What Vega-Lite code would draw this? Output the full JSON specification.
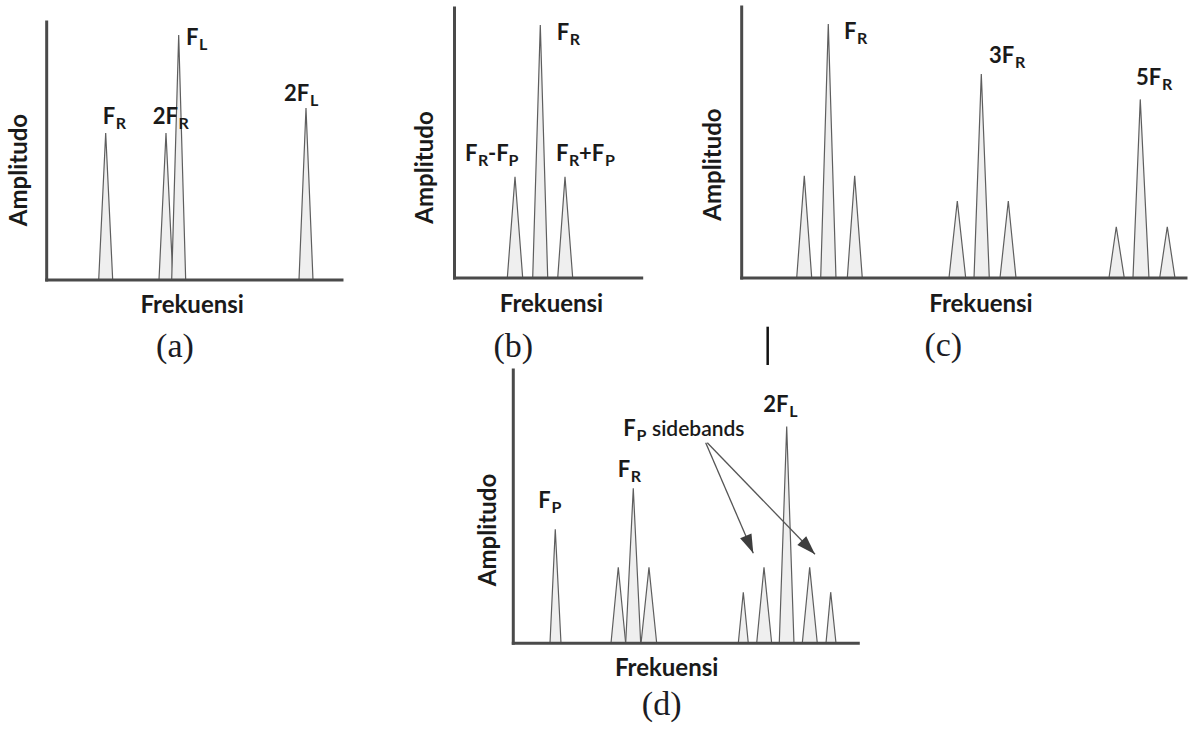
{
  "$schema": "https://vega.github.io/schema/vega-lite/v6.json",
  "width": 1189,
  "height": 729,
  "padding": 0,
  "autosize": {"type": "fit", "contains": "padding"},
  "background": "white",
  "config": {"view": {"stroke": null}},
  "datasets": {
    "peaks": [
      {"p": "a", "id": "FR", "f": 17.61, "a": 0}, {"p": "a", "id": "FR", "f": 19.98, "a": 57.0}, {"p": "a", "id": "FR", "f": 22.35, "a": 0},
      {"p": "a", "id": "2FR", "f": 38.03, "a": 0}, {"p": "a", "id": "2FR", "f": 40.40, "a": 57.0}, {"p": "a", "id": "2FR", "f": 42.77, "a": 0},
      {"p": "a", "id": "FL", "f": 42.33, "a": 0}, {"p": "a", "id": "FL", "f": 44.70, "a": 95.0}, {"p": "a", "id": "FL", "f": 47.07, "a": 0},
      {"p": "a", "id": "2FL", "f": 85.44, "a": 0}, {"p": "a", "id": "2FL", "f": 87.81, "a": 66.7}, {"p": "a", "id": "2FL", "f": 90.18, "a": 0},
      {"p": "b", "id": "L", "f": 28.21, "a": 0}, {"p": "b", "id": "L", "f": 32.32, "a": 37.5}, {"p": "b", "id": "L", "f": 36.43, "a": 0},
      {"p": "b", "id": "C", "f": 41.77, "a": 0}, {"p": "b", "id": "C", "f": 45.83, "a": 93.7}, {"p": "b", "id": "C", "f": 49.79, "a": 0},
      {"p": "b", "id": "R", "f": 55.13, "a": 0}, {"p": "b", "id": "R", "f": 59.03, "a": 37.5}, {"p": "b", "id": "R", "f": 63.14, "a": 0},
      {"p": "c", "id": "c1", "f": 12.38, "a": 0}, {"p": "c", "id": "c1", "f": 14.09, "a": 37.75}, {"p": "c", "id": "c1", "f": 15.76, "a": 0},
      {"p": "c", "id": "c2", "f": 17.78, "a": 0}, {"p": "c", "id": "c2", "f": 19.49, "a": 93.7}, {"p": "c", "id": "c2", "f": 21.22, "a": 0},
      {"p": "c", "id": "c3", "f": 23.77, "a": 0}, {"p": "c", "id": "c3", "f": 25.43, "a": 37.75}, {"p": "c", "id": "c3", "f": 27.14, "a": 0},
      {"p": "c", "id": "c4", "f": 46.66, "a": 0}, {"p": "c", "id": "c4", "f": 48.53, "a": 28.4}, {"p": "c", "id": "c4", "f": 50.42, "a": 0},
      {"p": "c", "id": "c5", "f": 52.29, "a": 0}, {"p": "c", "id": "c5", "f": 53.93, "a": 75.3}, {"p": "c", "id": "c5", "f": 55.73, "a": 0},
      {"p": "c", "id": "c6", "f": 58.14, "a": 0}, {"p": "c", "id": "c6", "f": 60.01, "a": 28.4}, {"p": "c", "id": "c6", "f": 61.74, "a": 0},
      {"p": "c", "id": "c7", "f": 82.67, "a": 0}, {"p": "c", "id": "c7", "f": 84.31, "a": 18.9}, {"p": "c", "id": "c7", "f": 86.11, "a": 0},
      {"p": "c", "id": "c8", "f": 88.07, "a": 0}, {"p": "c", "id": "c8", "f": 89.71, "a": 65.9}, {"p": "c", "id": "c8", "f": 91.67, "a": 0},
      {"p": "c", "id": "c9", "f": 94.08, "a": 0}, {"p": "c", "id": "c9", "f": 95.79, "a": 18.9}, {"p": "c", "id": "c9", "f": 97.52, "a": 0},
      {"p": "d", "id": "FP", "f": 10.64, "a": 0}, {"p": "d", "id": "FP", "f": 12.17, "a": 41.7}, {"p": "d", "id": "FP", "f": 13.83, "a": 0},
      {"p": "d", "id": "R1", "f": 28.32, "a": 0}, {"p": "d", "id": "R1", "f": 30.43, "a": 27.8}, {"p": "d", "id": "R1", "f": 32.58, "a": 0},
      {"p": "d", "id": "R2", "f": 32.58, "a": 0}, {"p": "d", "id": "R2", "f": 34.78, "a": 56.7}, {"p": "d", "id": "R2", "f": 36.93, "a": 0},
      {"p": "d", "id": "R3", "f": 37.03, "a": 0}, {"p": "d", "id": "R3", "f": 39.33, "a": 27.8}, {"p": "d", "id": "R3", "f": 41.57, "a": 0},
      {"p": "d", "id": "L1", "f": 65.22, "a": 0}, {"p": "d", "id": "L1", "f": 66.67, "a": 18.7}, {"p": "d", "id": "L1", "f": 68.12, "a": 0},
      {"p": "d", "id": "L2", "f": 70.55, "a": 0}, {"p": "d", "id": "L2", "f": 72.67, "a": 27.8}, {"p": "d", "id": "L2", "f": 74.90, "a": 0},
      {"p": "d", "id": "L3", "f": 77.10, "a": 0}, {"p": "d", "id": "L3", "f": 79.25, "a": 79.3}, {"p": "d", "id": "L3", "f": 81.36, "a": 0},
      {"p": "d", "id": "L4", "f": 83.77, "a": 0}, {"p": "d", "id": "L4", "f": 85.91, "a": 27.8}, {"p": "d", "id": "L4", "f": 88.12, "a": 0},
      {"p": "d", "id": "L5", "f": 90.64, "a": 0}, {"p": "d", "id": "L5", "f": 92.00, "a": 18.7}, {"p": "d", "id": "L5", "f": 93.54, "a": 0}
    ],
    "labels": [
      {"p": "a", "f": 18.96, "a": 60.3, "t": "F", "k": "m"}, {"p": "a", "f": 23.4, "a": 60.3, "t": "R", "k": "s"},
      {"p": "a", "f": 35.9, "a": 60.3, "t": "2F", "k": "m"}, {"p": "a", "f": 44.67, "a": 60.3, "t": "R", "k": "s"},
      {"p": "a", "f": 47.17, "a": 91.09, "t": "F", "k": "m"}, {"p": "a", "f": 51.61, "a": 91.09, "t": "L", "k": "s"},
      {"p": "a", "f": 80.36, "a": 69.38, "t": "2F", "k": "m"}, {"p": "a", "f": 89.13, "a": 69.38, "t": "L", "k": "s"},
      {"p": "b", "f": 54.59, "a": 88.15, "t": "F", "k": "m"}, {"p": "b", "f": 61.59, "a": 88.15, "t": "R", "k": "s"},
      {"p": "b", "f": 5.61, "a": 43.33, "t": "F", "k": "m"}, {"p": "b", "f": 12.55, "a": 43.33, "t": "R", "k": "s"},
      {"p": "b", "f": 17.9, "a": 43.33, "t": "-F", "k": "m"}, {"p": "b", "f": 28.9, "a": 43.33, "t": "P", "k": "s"},
      {"p": "b", "f": 54.22, "a": 43.33, "t": "F", "k": "m"}, {"p": "b", "f": 61.16, "a": 43.33, "t": "R", "k": "s"},
      {"p": "b", "f": 66.51, "a": 43.33, "t": "+F", "k": "m"}, {"p": "b", "f": 80.34, "a": 43.33, "t": "P", "k": "s"},
      {"p": "c", "f": 23.03, "a": 88.08, "t": "F", "k": "m"}, {"p": "c", "f": 25.97, "a": 88.08, "t": "R", "k": "s"},
      {"p": "c", "f": 55.66, "a": 79.22, "t": "3F", "k": "m"}, {"p": "c", "f": 61.49, "a": 79.22, "t": "R", "k": "s"},
      {"p": "c", "f": 88.74, "a": 71.22, "t": "5F", "k": "m"}, {"p": "c", "f": 94.58, "a": 71.22, "t": "R", "k": "s"},
      {"p": "d", "f": 7.25, "a": 49.4, "t": "F", "k": "m"}, {"p": "d", "f": 11.04, "a": 49.4, "t": "P", "k": "s"},
      {"p": "d", "f": 30.26, "a": 60.74, "t": "F", "k": "m"}, {"p": "d", "f": 34.06, "a": 60.74, "t": "R", "k": "s"},
      {"p": "d", "f": 31.88, "a": 75.96, "t": "F", "k": "m"}, {"p": "d", "f": 35.68, "a": 75.96, "t": "P", "k": "s"},
      {"p": "d", "f": 40.2, "a": 75.96, "t": "sidebands", "k": "n"},
      {"p": "d", "f": 72.46, "a": 84.74, "t": "2F", "k": "m"}, {"p": "d", "f": 79.97, "a": 84.74, "t": "L", "k": "s"}
    ],
    "titles": [
      {"p": "a", "f": -9.04, "a": 42.64, "t": "Amplitudo", "k": "y"}, {"p": "a", "f": 49.27, "a": -12.79, "t": "Frekuensi", "k": "x"}, {"p": "a", "f": 43.45, "a": -29.96, "t": "(a)", "k": "cap"},
      {"p": "b", "f": -14.96, "a": 40.93, "t": "Amplitudo", "k": "y"}, {"p": "b", "f": 51.82, "a": -12.59, "t": "Frekuensi", "k": "x"}, {"p": "b", "f": 31.41, "a": -29.37, "t": "(b)", "k": "cap"},
      {"p": "c", "f": -6.23, "a": 41.88, "t": "Amplitudo", "k": "y"}, {"p": "c", "f": 53.86, "a": -12.55, "t": "Frekuensi", "k": "x"}, {"p": "c", "f": 45.38, "a": -28.78, "t": "(c)", "k": "cap"},
      {"p": "d", "f": -7.04, "a": 41.46, "t": "Amplitudo", "k": "y"}, {"p": "d", "f": 44.46, "a": -11.96, "t": "Frekuensi", "k": "x"}, {"p": "d", "f": 43.01, "a": -26.42, "t": "(d)", "k": "cap"}
    ],
    "lines": [
      {"p": "a", "k": "axis", "f": 0, "a": 0, "f2": 100, "a2": 0}, {"p": "a", "k": "axis", "f": 0, "a": 0, "f2": 0, "a2": 100},
      {"p": "b", "k": "axis", "f": 0, "a": 0, "f2": 100, "a2": 0}, {"p": "b", "k": "axis", "f": 0, "a": 0, "f2": 0, "a2": 100},
      {"p": "c", "k": "axis", "f": 0, "a": 0, "f2": 100, "a2": 0}, {"p": "c", "k": "axis", "f": 0, "a": 0, "f2": 0, "a2": 100},
      {"p": "d", "k": "axis", "f": 0, "a": 0, "f2": 100, "a2": 0}, {"p": "d", "k": "axis", "f": 0, "a": 0, "f2": 0, "a2": 100},
      {"p": "c", "k": "cursor", "f": 5.85, "a": -17.97, "f2": 5.85, "a2": -32.1},
      {"p": "d", "k": "arrow", "id": 1, "f": 69.57, "a": 32.93, "f2": 55.77, "a2": 73.4},
      {"p": "d", "k": "arrow", "id": 2, "f": 87.45, "a": 32.56, "f2": 56.23, "a2": 73.4}
    ]
  },
  "resolve": {"scale": {"x": "independent", "y": "independent"}},
  "layer": [
    {
      "encoding": {
        "x": {"field": "f", "type": "quantitative", "scale": {"domain": [-15.81, 386.83], "nice": false, "zero": false}, "axis": null},
        "y": {"field": "a", "type": "quantitative", "stack": null, "scale": {"domain": [-174.03, 108.53], "nice": false, "zero": false}, "axis": null}
      },
      "layer": [
        {"data": {"name": "peaks"}, "transform": [{"filter": "datum.p === 'a'"}], "mark": {"type": "area", "fill": "#efefef", "stroke": "#5e5e5e", "strokeWidth": 1.2}, "encoding": {"detail": {"field": "id"}, "y2": {"datum": 0}}},
        {"data": {"name": "lines"}, "transform": [{"filter": "datum.p === 'a' && datum.k === 'axis'"}], "mark": {"type": "rule", "stroke": "#4a4a4a", "strokeWidth": 3, "strokeCap": "square"}, "encoding": {"x2": {"field": "f2"}, "y2": {"field": "a2"}}},
        {"data": {"name": "labels"}, "transform": [{"filter": "datum.p === 'a' && datum.k === 'm'"}], "mark": {"type": "text", "font": "Lato", "fontWeight": "bold", "fontSize": 22, "align": "left", "baseline": "alphabetic", "color": "#1a1a1a"}, "encoding": {"text": {"field": "t"}}},
        {"data": {"name": "labels"}, "transform": [{"filter": "datum.p === 'a' && datum.k === 's'"}], "mark": {"type": "text", "font": "Lato", "fontWeight": "bold", "fontSize": 16, "dy": 5, "align": "left", "baseline": "alphabetic", "color": "#1a1a1a"}, "encoding": {"text": {"field": "t"}}},
        {"data": {"name": "titles"}, "transform": [{"filter": "datum.p === 'a' && datum.k === 'y'"}], "mark": {"type": "text", "font": "Lato", "fontWeight": "bold", "fontSize": 24, "angle": 270, "align": "center", "baseline": "middle", "color": "#1a1a1a"}, "encoding": {"text": {"field": "t"}}},
        {"data": {"name": "titles"}, "transform": [{"filter": "datum.p === 'a' && datum.k === 'x'"}], "mark": {"type": "text", "font": "Lato", "fontWeight": "bold", "fontSize": 24, "align": "center", "baseline": "alphabetic", "color": "#1a1a1a"}, "encoding": {"text": {"field": "t"}}},
        {"data": {"name": "titles"}, "transform": [{"filter": "datum.p === 'a' && datum.k === 'cap'"}], "mark": {"type": "text", "font": "Liberation Serif", "fontSize": 34, "align": "center", "baseline": "alphabetic", "color": "#1c1c24"}, "encoding": {"text": {"field": "t"}}}
      ]
    },
    {
      "encoding": {
        "x": {"field": "f", "type": "quantitative", "scale": {"domain": [-242.79, 392.36], "nice": false, "zero": false}, "axis": null},
        "y": {"field": "a", "type": "quantitative", "stack": null, "scale": {"domain": [-167.04, 102.96], "nice": false, "zero": false}, "axis": null}
      },
      "layer": [
        {"data": {"name": "peaks"}, "transform": [{"filter": "datum.p === 'b'"}], "mark": {"type": "area", "fill": "#efefef", "stroke": "#5e5e5e", "strokeWidth": 1.2}, "encoding": {"detail": {"field": "id"}, "y2": {"datum": 0}}},
        {"data": {"name": "lines"}, "transform": [{"filter": "datum.p === 'b' && datum.k === 'axis'"}], "mark": {"type": "rule", "stroke": "#4a4a4a", "strokeWidth": 3, "strokeCap": "square"}, "encoding": {"x2": {"field": "f2"}, "y2": {"field": "a2"}}},
        {"data": {"name": "labels"}, "transform": [{"filter": "datum.p === 'b' && datum.k === 'm'"}], "mark": {"type": "text", "font": "Lato", "fontWeight": "bold", "fontSize": 22, "align": "left", "baseline": "alphabetic", "color": "#1a1a1a"}, "encoding": {"text": {"field": "t"}}},
        {"data": {"name": "labels"}, "transform": [{"filter": "datum.p === 'b' && datum.k === 's'"}], "mark": {"type": "text", "font": "Lato", "fontWeight": "bold", "fontSize": 16, "dy": 5, "align": "left", "baseline": "alphabetic", "color": "#1a1a1a"}, "encoding": {"text": {"field": "t"}}},
        {"data": {"name": "titles"}, "transform": [{"filter": "datum.p === 'b' && datum.k === 'y'"}], "mark": {"type": "text", "font": "Lato", "fontWeight": "bold", "fontSize": 24, "angle": 270, "align": "center", "baseline": "middle", "color": "#1a1a1a"}, "encoding": {"text": {"field": "t"}}},
        {"data": {"name": "titles"}, "transform": [{"filter": "datum.p === 'b' && datum.k === 'x'"}], "mark": {"type": "text", "font": "Lato", "fontWeight": "bold", "fontSize": 24, "align": "center", "baseline": "alphabetic", "color": "#1a1a1a"}, "encoding": {"text": {"field": "t"}}},
        {"data": {"name": "titles"}, "transform": [{"filter": "datum.p === 'b' && datum.k === 'cap'"}], "mark": {"type": "text", "font": "Liberation Serif", "fontSize": 34, "align": "center", "baseline": "alphabetic", "color": "#1c1c24"}, "encoding": {"text": {"field": "t"}}}
      ]
    },
    {
      "encoding": {
        "x": {"field": "f", "type": "quantitative", "scale": {"domain": [-166.94, 100.68], "nice": false, "zero": false}, "axis": null},
        "y": {"field": "a", "type": "quantitative", "stack": null, "scale": {"domain": [-166.42, 102.58], "nice": false, "zero": false}, "axis": null}
      },
      "layer": [
        {"data": {"name": "peaks"}, "transform": [{"filter": "datum.p === 'c'"}], "mark": {"type": "area", "fill": "#efefef", "stroke": "#5e5e5e", "strokeWidth": 1.2}, "encoding": {"detail": {"field": "id"}, "y2": {"datum": 0}}},
        {"data": {"name": "lines"}, "transform": [{"filter": "datum.p === 'c' && datum.k === 'axis'"}], "mark": {"type": "rule", "stroke": "#4a4a4a", "strokeWidth": 3, "strokeCap": "square"}, "encoding": {"x2": {"field": "f2"}, "y2": {"field": "a2"}}},
        {"data": {"name": "lines"}, "transform": [{"filter": "datum.p === 'c' && datum.k === 'cursor'"}], "mark": {"type": "rule", "stroke": "#111111", "strokeWidth": 2.5}, "encoding": {"x2": {"field": "f2"}, "y2": {"field": "a2"}}},
        {"data": {"name": "labels"}, "transform": [{"filter": "datum.p === 'c' && datum.k === 'm'"}], "mark": {"type": "text", "font": "Lato", "fontWeight": "bold", "fontSize": 22, "align": "left", "baseline": "alphabetic", "color": "#1a1a1a"}, "encoding": {"text": {"field": "t"}}},
        {"data": {"name": "labels"}, "transform": [{"filter": "datum.p === 'c' && datum.k === 's'"}], "mark": {"type": "text", "font": "Lato", "fontWeight": "bold", "fontSize": 16, "dy": 5, "align": "left", "baseline": "alphabetic", "color": "#1a1a1a"}, "encoding": {"text": {"field": "t"}}},
        {"data": {"name": "titles"}, "transform": [{"filter": "datum.p === 'c' && datum.k === 'y'"}], "mark": {"type": "text", "font": "Lato", "fontWeight": "bold", "fontSize": 24, "angle": 270, "align": "center", "baseline": "middle", "color": "#1a1a1a"}, "encoding": {"text": {"field": "t"}}},
        {"data": {"name": "titles"}, "transform": [{"filter": "datum.p === 'c' && datum.k === 'x'"}], "mark": {"type": "text", "font": "Lato", "fontWeight": "bold", "fontSize": 24, "align": "center", "baseline": "alphabetic", "color": "#1a1a1a"}, "encoding": {"text": {"field": "t"}}},
        {"data": {"name": "titles"}, "transform": [{"filter": "datum.p === 'c' && datum.k === 'cap'"}], "mark": {"type": "text", "font": "Liberation Serif", "fontSize": 34, "align": "center", "baseline": "alphabetic", "color": "#1c1c24"}, "encoding": {"text": {"field": "t"}}}
      ]
    },
    {
      "encoding": {
        "x": {"field": "f", "type": "quantitative", "scale": {"domain": [-148.78, 195.86], "nice": false, "zero": false}, "axis": null},
        "y": {"field": "a", "type": "quantitative", "stack": null, "scale": {"domain": [-31.36, 235.38], "nice": false, "zero": false}, "axis": null}
      },
      "layer": [
        {"data": {"name": "peaks"}, "transform": [{"filter": "datum.p === 'd'"}], "mark": {"type": "area", "fill": "#efefef", "stroke": "#5e5e5e", "strokeWidth": 1.2}, "encoding": {"detail": {"field": "id"}, "y2": {"datum": 0}}},
        {"data": {"name": "lines"}, "transform": [{"filter": "datum.p === 'd' && datum.k === 'axis'"}], "mark": {"type": "rule", "stroke": "#4a4a4a", "strokeWidth": 3, "strokeCap": "square"}, "encoding": {"x2": {"field": "f2"}, "y2": {"field": "a2"}}},
        {"data": {"name": "lines"}, "transform": [{"filter": "datum.p === 'd' && datum.k === 'arrow'"}], "mark": {"type": "rule", "stroke": "#555555", "strokeWidth": 1.3}, "encoding": {"x2": {"field": "f2"}, "y2": {"field": "a2"}}},
        {"data": {"name": "lines"}, "transform": [{"filter": "datum.p === 'd' && datum.id === 1"}], "mark": {"type": "point", "shape": "M0,0L0.65,2L-0.65,2Z", "filled": true, "size": 361, "angle": 156.7, "color": "#3d3d3d", "opacity": 1, "strokeWidth": 0}},
        {"data": {"name": "lines"}, "transform": [{"filter": "datum.p === 'd' && datum.id === 2"}], "mark": {"type": "point", "shape": "M0,0L0.65,2L-0.65,2Z", "filled": true, "size": 361, "angle": 136.0, "color": "#3d3d3d", "opacity": 1, "strokeWidth": 0}},
        {"data": {"name": "labels"}, "transform": [{"filter": "datum.p === 'd' && datum.k === 'm'"}], "mark": {"type": "text", "font": "Lato", "fontWeight": "bold", "fontSize": 22, "align": "left", "baseline": "alphabetic", "color": "#1a1a1a"}, "encoding": {"text": {"field": "t"}}},
        {"data": {"name": "labels"}, "transform": [{"filter": "datum.p === 'd' && datum.k === 's'"}], "mark": {"type": "text", "font": "Lato", "fontWeight": "bold", "fontSize": 16, "dy": 5, "align": "left", "baseline": "alphabetic", "color": "#1a1a1a"}, "encoding": {"text": {"field": "t"}}},
        {"data": {"name": "labels"}, "transform": [{"filter": "datum.p === 'd' && datum.k === 'n'"}], "mark": {"type": "text", "font": "Lato", "fontWeight": 600, "fontSize": 21, "align": "left", "baseline": "alphabetic", "color": "#1a1a1a"}, "encoding": {"text": {"field": "t"}}},
        {"data": {"name": "titles"}, "transform": [{"filter": "datum.p === 'd' && datum.k === 'y'"}], "mark": {"type": "text", "font": "Lato", "fontWeight": "bold", "fontSize": 24, "angle": 270, "align": "center", "baseline": "middle", "color": "#1a1a1a"}, "encoding": {"text": {"field": "t"}}},
        {"data": {"name": "titles"}, "transform": [{"filter": "datum.p === 'd' && datum.k === 'x'"}], "mark": {"type": "text", "font": "Lato", "fontWeight": "bold", "fontSize": 24, "align": "center", "baseline": "alphabetic", "color": "#1a1a1a"}, "encoding": {"text": {"field": "t"}}},
        {"data": {"name": "titles"}, "transform": [{"filter": "datum.p === 'd' && datum.k === 'cap'"}], "mark": {"type": "text", "font": "Liberation Serif", "fontSize": 34, "align": "center", "baseline": "alphabetic", "color": "#1c1c24"}, "encoding": {"text": {"field": "t"}}}
      ]
    }
  ]
}
